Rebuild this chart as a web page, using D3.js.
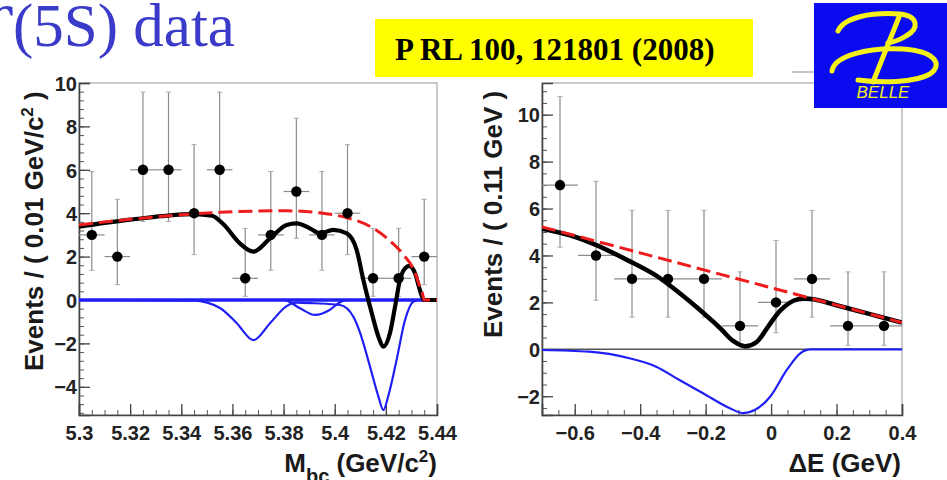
<!DOCTYPE html>
<html>
<head>
<meta charset="utf-8">
<script src="https://cdn.jsdelivr.net/npm/d3@7"></script>
<style>
  html, body { margin: 0; padding: 0; background: #fff; }
  svg { display: block; }
  .tick text { font-family: "Liberation Sans", Arial, sans-serif; font-weight: bold; font-size: 20px; fill: #222; }
</style>
</head>
<body>
<svg id="chart" width="947" height="480"></svg>
<script>
// ---- M_bc panel: binned data (0.01 GeV/c^2 bins) ----
const mbcBins  = [5.305, 5.315, 5.325, 5.335, 5.345, 5.355, 5.365, 5.375, 5.385, 5.395, 5.405, 5.415, 5.425, 5.435];
const mbcCount = [3, 2, 6, 6, 4, 6, 1, 3, 5, 3, 4, 1, 1, 2];
const mbcErrLo = [1.37, 0.71, 3.62, 3.62, 2.09, 3.62, 0.17, 1.37, 2.84, 1.37, 2.09, 0.17, 0.17, 0.71];
const mbcErrHi = [5.92, 4.64, 9.58, 9.58, 7.16, 9.58, 3.30, 5.92, 8.38, 5.92, 7.16, 3.30, 3.30, 4.64];

// fit curves, M_bc
const mbcBkg = [[5.300,3.46],[5.320,3.72],[5.345,3.97],[5.355,4.04],[5.370,4.10],[5.381,4.11],[5.394,4.02],
  [5.405,3.78],[5.414,3.38],[5.4205,2.84],[5.427,2.07],[5.431,1.38],[5.4333,0.61],[5.4343,0.30],[5.435,0],[5.440,0]];
const mbcTotal = [[5.300,3.38],[5.320,3.70],[5.345,3.96],[5.352,3.88],[5.3564,3.50],[5.3629,2.61],[5.3682,2.23],
  [5.3747,2.84],[5.3812,3.46],[5.3851,3.53],[5.3903,3.30],[5.3942,3.07],[5.3994,3.23],[5.4047,3.07],[5.4086,2.30],
  [5.4112,0.92],[5.4145,-0.61],[5.4171,-1.69],[5.4190,-2.15],[5.4216,-1.53],[5.4236,-0.31],[5.4255,0.92],
  [5.4275,1.46],[5.4292,1.57],[5.4314,1.23],[5.4333,0.46],[5.4349,0],[5.440,0]];
const mbcSigA = [[5.300,0],[5.345,-0.03],[5.3551,-0.37],[5.3617,-1.07],[5.3682,-1.85],[5.3747,-1.07],[5.3812,-0.28],
  [5.3851,-0.12],[5.392,-0.15],[5.4021,-0.23],[5.4073,-0.77],[5.4099,-1.50],[5.4138,-3.07],[5.4171,-4.45],
  [5.4190,-5.07],[5.4210,-4.40],[5.4242,-2.76],[5.4275,-0.92],[5.4307,-0.08],[5.4333,0],[5.440,0]];
const mbcSigB = [[5.300,0],[5.380,0],[5.3864,-0.38],[5.3923,-0.69],[5.398,-0.46],[5.4021,-0.10],[5.405,0],[5.440,0]];

// ---- Delta E panel: binned data (0.11 GeV bins) ----
const deBins  = [-0.645, -0.535, -0.425, -0.315, -0.205, -0.095, 0.015, 0.125, 0.235, 0.345];
const deCount = [7, 4, 3, 3, 3, 1, 2, 3, 1, 1];
const deErrLo = [4.35, 2.09, 1.37, 1.37, 1.37, 0.17, 0.71, 1.37, 0.17, 0.17];
const deErrHi = [10.77, 7.16, 5.92, 5.92, 5.92, 3.30, 4.64, 5.92, 3.30, 3.30];

// fit curves, Delta E
const deBkg = [[-0.70,5.22],[-0.40,4.11],[-0.126,3.09],[0.12,2.18],[0.40,1.14]];
const deTotal = [[-0.70,5.14],[-0.60,4.80],[-0.5355,4.45],[-0.433,3.76],[-0.351,3.14],[-0.28,2.40],
  [-0.228,1.80],[-0.157,0.92],[-0.116,0.36],[-0.08,0.13],[-0.045,0.30],[-0.01,0.95],[0.03,1.68],
  [0.07,2.08],[0.10,2.16],[0.13,2.13],[0.20,1.88],[0.30,1.51],[0.40,1.14]];
const deSig = [[-0.70,-0.03],[-0.556,-0.10],[-0.433,-0.38],[-0.351,-0.74],[-0.28,-1.31],[-0.208,-1.87],
  [-0.126,-2.51],[-0.085,-2.72],[-0.003,-2.02],[0.048,-0.88],[0.089,-0.17],[0.12,0],[0.40,0]];

// ---- axis ticks ----
const mbcXTicks = [5.3, 5.32, 5.34, 5.36, 5.38, 5.4, 5.42, 5.44];
const mbcYTicks = [-4, -2, 0, 2, 4, 6, 8, 10];
const deXTicks  = [-0.6, -0.4, -0.2, 0, 0.2, 0.4];
const deYTicks  = [-2, 0, 2, 4, 6, 8, 10];

const svg = d3.select("#chart");
const SANS = '"Liberation Sans", Arial, Helvetica, sans-serif';
const SERIF = '"Liberation Serif", "Times New Roman", serif';

function range(a, b, step) {
  const out = [];
  const n = Math.round((b - a) / step);
  for (let i = 0; i <= n; i++) out.push(+(a + i * step).toFixed(6));
  return out;
}

function panel(opt) {
  const g = svg.append("g");
  const x = d3.scaleLinear().domain(opt.xDomain).range([opt.left, opt.right]);
  const y = d3.scaleLinear().domain(opt.yDomain).range([opt.bottom, opt.top]);

  // frame
  g.append("rect").attr("x", opt.left).attr("y", opt.top)
    .attr("width", opt.right - opt.left).attr("height", opt.bottom - opt.top)
    .attr("fill", "none").attr("stroke", "#a8a8a8").attr("stroke-width", 1.2);

  // minor ticks
  g.append("g").attr("transform", `translate(${opt.left},0)`)
    .call(d3.axisLeft(y).tickValues(opt.yMinor).tickSize(-5).tickFormat(""))
    .call(s => s.select(".domain").remove())
    .selectAll("line").attr("stroke", "#555");
  g.append("g").attr("transform", `translate(0,${opt.bottom})`)
    .call(d3.axisBottom(x).tickValues(opt.xMinor).tickSize(-5).tickFormat(""))
    .call(s => s.select(".domain").remove())
    .selectAll("line").attr("stroke", "#555");

  // major ticks + labels
  const ya = g.append("g").attr("transform", `translate(${opt.left},0)`)
    .call(d3.axisLeft(y).tickValues(opt.yTicks).tickSize(-11).tickPadding(2).tickFormat(d3.format("")));
  ya.select(".domain").attr("stroke", "#444").attr("stroke-width", 1.6);
  ya.selectAll("line").attr("stroke", "#444").attr("stroke-width", 1.3);
  ya.selectAll("text").attr("dy", "0.36em");
  const xa = g.append("g").attr("transform", `translate(0,${opt.bottom})`)
    .call(d3.axisBottom(x).tickValues(opt.xTicks).tickSize(-11).tickPadding(6).tickFormat(opt.xFormat));
  xa.select(".domain").attr("stroke", "#444").attr("stroke-width", 1.6);
  xa.selectAll("line").attr("stroke", "#444").attr("stroke-width", 1.3);
  xa.selectAll("text").attr("dy", "0.95em");

  const clip = "clip" + opt.id;
  svg.append("clipPath").attr("id", clip).append("rect")
    .attr("x", opt.left).attr("y", opt.top)
    .attr("width", opt.right - opt.left).attr("height", opt.bottom - opt.top);
  const plot = g.append("g").attr("clip-path", `url(#${clip})`);

  // data error bars
  const half = opt.binWidth / 2;
  opt.bins.forEach((c, i) => {
    plot.append("line").attr("x1", x(c - half)).attr("x2", x(c + half))
      .attr("y1", y(opt.count[i])).attr("y2", y(opt.count[i]))
      .attr("stroke", "#8c8c8c").attr("stroke-width", 1.2);
    plot.append("line").attr("x1", x(c)).attr("x2", x(c))
      .attr("y1", y(opt.lo[i])).attr("y2", y(opt.hi[i]))
      .attr("stroke", "#8c8c8c").attr("stroke-width", 1.2);
    [opt.lo[i], opt.hi[i]].forEach(v => plot.append("line")
      .attr("x1", x(c) - 2.5).attr("x2", x(c) + 2.5).attr("y1", y(v)).attr("y2", y(v))
      .attr("stroke", "#aaa").attr("stroke-width", 1));
  });

  const sigLine = d3.line().x(d => x(d[0])).y(d => y(d[1])).curve(d3.curveMonotoneX);
  const line = d3.line().x(d => x(d[0])).y(d => y(d[1])).curve(opt.curve || d3.curveMonotoneX);

  if (opt.zeroLine) {
    plot.append("line").attr("x1", opt.left).attr("x2", opt.right)
      .attr("y1", y(0)).attr("y2", y(0))
      .attr("stroke", opt.zeroLine.color).attr("stroke-width", opt.zeroLine.width);
  }
  opt.signals.forEach(s => plot.append("path").attr("d", sigLine(s))
    .attr("fill", "none").attr("stroke", "#1f1ff5").attr("stroke-width", 2.2));
  plot.append("path").attr("d", line(opt.total))
    .attr("fill", "none").attr("stroke", "#000").attr("stroke-width", opt.totalWidth)
    .attr("stroke-linejoin", "round");
  plot.append("path").attr("d", line(opt.bkg))
    .attr("fill", "none").attr("stroke", "#ee1c1c").attr("stroke-width", 3)
    .attr("stroke-dasharray", "14,6");

  // data points
  opt.bins.forEach((c, i) => plot.append("circle")
    .attr("cx", x(c)).attr("cy", y(opt.count[i])).attr("r", 5.2).attr("fill", "#000"));

  return { x, y };
}

panel({
  id: "mbc", left: 79, right: 437, top: 83, bottom: 415,
  xDomain: [5.3, 5.44], yDomain: [-5.3, 10],
  xTicks: mbcXTicks, yTicks: mbcYTicks,
  xMinor: range(5.3, 5.44, 0.005), yMinor: range(-5.2, 10, 0.4),
  xFormat: d3.format(""),
  bins: mbcBins, count: mbcCount, lo: mbcErrLo, hi: mbcErrHi, binWidth: 0.01,
  bkg: mbcBkg, total: mbcTotal, signals: [mbcSigA, mbcSigB], totalWidth: 4.2,
  zeroLine: { color: "#1f1ff5", width: 3.5 }
});

panel({
  id: "de", left: 542, right: 902, top: 83, bottom: 415,
  xDomain: [-0.7, 0.4], yDomain: [-2.8, 11.35],
  xTicks: deXTicks, yTicks: deYTicks,
  xMinor: range(-0.7, 0.4, 0.05), yMinor: range(-2.5, 11, 0.5),
  xFormat: d3.format(""),
  bins: deBins, count: deCount, lo: deErrLo, hi: deErrHi, binWidth: 0.11,
  bkg: deBkg, total: deTotal, signals: [deSig], totalWidth: 4.6,
  curve: d3.curveCatmullRom.alpha(0.5),
  zeroLine: { color: "#555", width: 1.4 }
});

// axis titles
function yTitle(xBase, yStart, label) {
  const t = svg.append("text")
    .attr("transform", `translate(${xBase},${yStart}) rotate(-90)`)
    .attr("font-family", SANS).attr("font-weight", "bold").attr("font-size", 26)
    .attr("fill", "#1a1a1a");
  t.append("tspan").text(label[0]);
  if (label[1]) {
    t.append("tspan").attr("dy", -10).attr("font-size", 17).text(label[1]);
    t.append("tspan").attr("dy", 10).text(label[2]);
  }
}
yTitle(43, 371, ["Events / ( 0.01 GeV/c", "2", " )"]);
yTitle(502, 338, ["Events / ( 0.11 GeV )"]);

const mt = svg.append("text").attr("x", 437).attr("y", 472).attr("text-anchor", "end")
  .attr("font-family", SANS).attr("font-weight", "bold").attr("font-size", 26).attr("fill", "#1a1a1a");
mt.append("tspan").text("M");
mt.append("tspan").attr("dy", 11).attr("font-size", 20).text("bc");
mt.append("tspan").attr("dy", -11).text(" (GeV/c");
mt.append("tspan").attr("dy", -10).attr("font-size", 17).text("2");
mt.append("tspan").attr("dy", 10).text(")");

svg.append("text").attr("x", 901).attr("y", 472).attr("text-anchor", "end")
  .attr("font-family", SANS).attr("font-weight", "bold").attr("font-size", 26).attr("fill", "#1a1a1a")
  .text("\u0394E (GeV)");

// slide title
svg.append("text").attr("x", 12).attr("y", 46).attr("text-anchor", "end")
  .attr("font-family", SERIF).attr("font-size", 61).attr("fill", "#3b3bc9").text("\u03D2");
svg.append("text").attr("x", 13).attr("y", 46)
  .attr("font-family", SERIF).attr("font-size", 61).attr("fill", "#3b3bc9").text("(5S) data");

// reference box
svg.append("rect").attr("x", 375).attr("y", 19).attr("width", 378).attr("height", 58).attr("fill", "#ffff00");
svg.append("text").attr("x", 395).attr("y", 60)
  .attr("font-family", SERIF).attr("font-weight", "bold").attr("font-size", 31).attr("fill", "#000")
  .text("P RL 100, 121801 (2008)");

// Belle logo
svg.append("line").attr("x1", 792).attr("x2", 814).attr("y1", 72).attr("y2", 72)
  .attr("stroke", "#c4c4c4").attr("stroke-width", 2);
const logo = svg.append("g");
logo.append("rect").attr("x", 814).attr("y", 3).attr("width", 133).attr("height", 105).attr("fill", "#0b0bef");
const yel = "#f4f01a";
logo.append("path").attr("d", "M838,31 C844,17 872,12 900,14 C918,16 920,28 906,36 C900,40 893,42 888,43")
  .attr("fill", "none").attr("stroke", yel).attr("stroke-width", 5).attr("stroke-linecap", "round");
logo.append("path").attr("d", "M899,17 L873,82")
  .attr("fill", "none").attr("stroke", yel).attr("stroke-width", 5).attr("stroke-linecap", "round");
logo.append("path").attr("d", "M832,71 C834,56 868,47 903,49 C934,51 944,64 930,74 C915,83 880,83 858,80")
  .attr("fill", "none").attr("stroke", yel).attr("stroke-width", 5).attr("stroke-linecap", "round");
logo.append("text").attr("x", 883).attr("y", 98).attr("text-anchor", "middle")
  .attr("font-family", SANS).attr("font-style", "italic").attr("font-size", 17).attr("fill", yel)
  .text("BELLE");
</script>
</body>
</html>
